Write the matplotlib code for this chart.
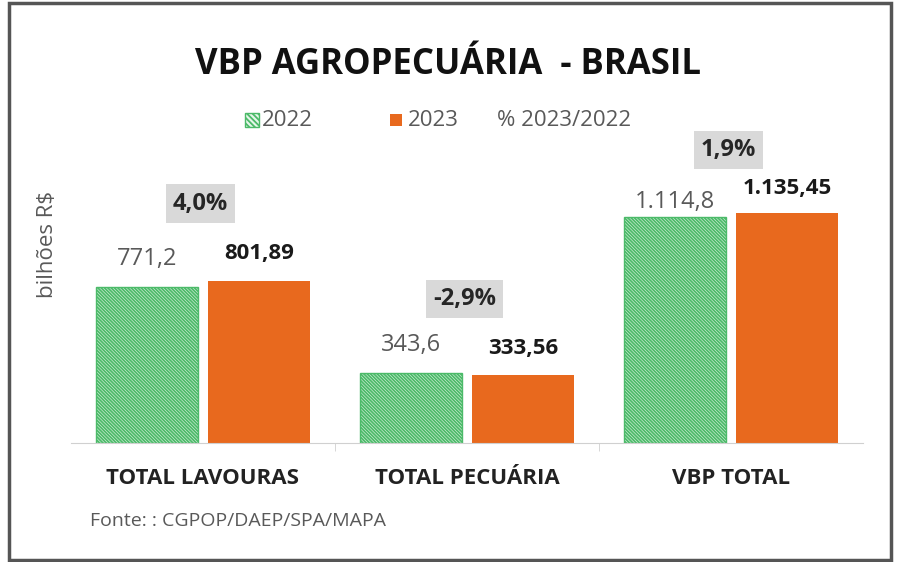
import matplotlib
matplotlib.use("Agg")
import matplotlib.pyplot as plt
from matplotlib.patches import Rectangle
import numpy as np

categorias = ["TOTAL LAVOURAS", "TOTAL PECUÁRIA", "VBP TOTAL"]
v2022 = [771.2, 343.6, 1114.8]
v2023 = [801.89, 333.56, 1135.45]
rotulos_2022 = ["771,2", "343,6", "1.114,8"]
rotulos_2023 = ["801,89", "333,56", "1.135,45"]
variacao = ["4,0%", "-2,9%", "1,9%"]

# deslocamentos dos rótulos (pixels acima da barra), como no original
off_2022 = [28, 28, 15]
off_2023 = [27, 27, 24]
off_var = [77, 74, 63]

plt.rcParams['font.family'] = ['Open Sans', 'DejaVu Sans']
plt.rcParams['hatch.linewidth'] = 1.3

verde = '#4cba69'
verde_fundo = '#e6f6ea'
laranja = '#e8691e'
cinza = '#595959'
hachura = '\\' * 10

fig = plt.figure(figsize=(9, 5.62), dpi=100)
W, H = 900, 562
ax = fig.add_axes([71 / W, (H - 443) / H, (863 - 71) / W, (443 - 150) / H])

x = np.arange(len(categorias))
larg = 0.386
desl = 0.212
ax.bar(x - desl, v2022, larg, facecolor=verde_fundo, edgecolor=verde,
       hatch=hachura, linewidth=1.0, label='2022')
ax.bar(x + desl, v2023, larg, color=laranja, label='2023')

ax.set_xlim(-0.5, 2.5)
ax.set_ylim(0, 1446)
for s in ['top', 'right', 'left']:
    ax.spines[s].set_visible(False)
ax.spines['bottom'].set_color('#d0d0d0')
ax.set_yticks([])
ax.set_xticks(x)
ax.set_xticklabels(categorias, fontsize=16, fontweight='bold', color='#222222',
                   va='center')
ax.tick_params(axis='x', length=0, pad=35 * 0.72)
ax.set_xticks([0.5, 1.5], minor=True)
ax.tick_params(axis='x', which='minor', length=6, color='#d0d0d0')

for i in range(len(categorias)):
    ax.annotate(rotulos_2022[i], (x[i] - desl, v2022[i]), xytext=(0, off_2022[i]),
                textcoords='offset pixels', ha='center', va='center',
                fontsize=17, color=cinza)
    ax.annotate(rotulos_2023[i], (x[i] + desl, v2023[i]), xytext=(0, off_2023[i]),
                textcoords='offset pixels', ha='center', va='center',
                fontsize=16, fontweight='bold', color='#1a1a1a')
    topo = max(v2022[i], v2023[i])
    ax.annotate(variacao[i], (x[i] - 0.01, topo), xytext=(0, off_var[i]),
                textcoords='offset pixels', ha='center', va='center',
                fontsize=17, fontweight='bold', color='#262626',
                bbox=dict(boxstyle='square,pad=0.3', facecolor='#d9d9d9',
                          edgecolor='none'))

ax.text(-0.0303, 0.676, "bilhões R$", transform=ax.transAxes, rotation=90,
        ha='center', va='center', fontsize=16, color=cinza)

fig.text(448 / W, 1 - 65 / H, "VBP AGROPECUÁRIA  - BRASIL", ha='center',
         va='center', fontsize=25, fontweight='bold', color='#111111')

# legenda feita a mão
fig.patches.append(Rectangle((245 / W, 1 - 127 / H), 14 / W, 14 / H,
                             transform=fig.transFigure, facecolor=verde_fundo,
                             edgecolor=verde, hatch='\\' * 6, linewidth=1.0))
fig.text(262 / W, 1 - 120 / H, "2022", ha='left', va='center', fontsize=16, color=cinza)
fig.patches.append(Rectangle((390 / W, 1 - 126 / H), 12 / W, 12 / H,
                             transform=fig.transFigure, facecolor=laranja,
                             edgecolor='none'))
fig.text(408 / W, 1 - 120 / H, "2023", ha='left', va='center', fontsize=16, color=cinza)
fig.text(497 / W, 1 - 120 / H, "% 2023/2022", ha='left', va='center', fontsize=16, color=cinza)

fig.text(90 / W, 1 - 521 / H, "Fonte: : CGPOP/DAEP/SPA/MAPA", ha='left',
         va='center', fontsize=14, color=cinza)

fig.patches.append(Rectangle((9 / W, 2 / H), 882 / W, 557 / H,
                             transform=fig.transFigure, facecolor='none',
                             edgecolor='#555555', linewidth=2.5))

fig.savefig("out.png", dpi=100)
